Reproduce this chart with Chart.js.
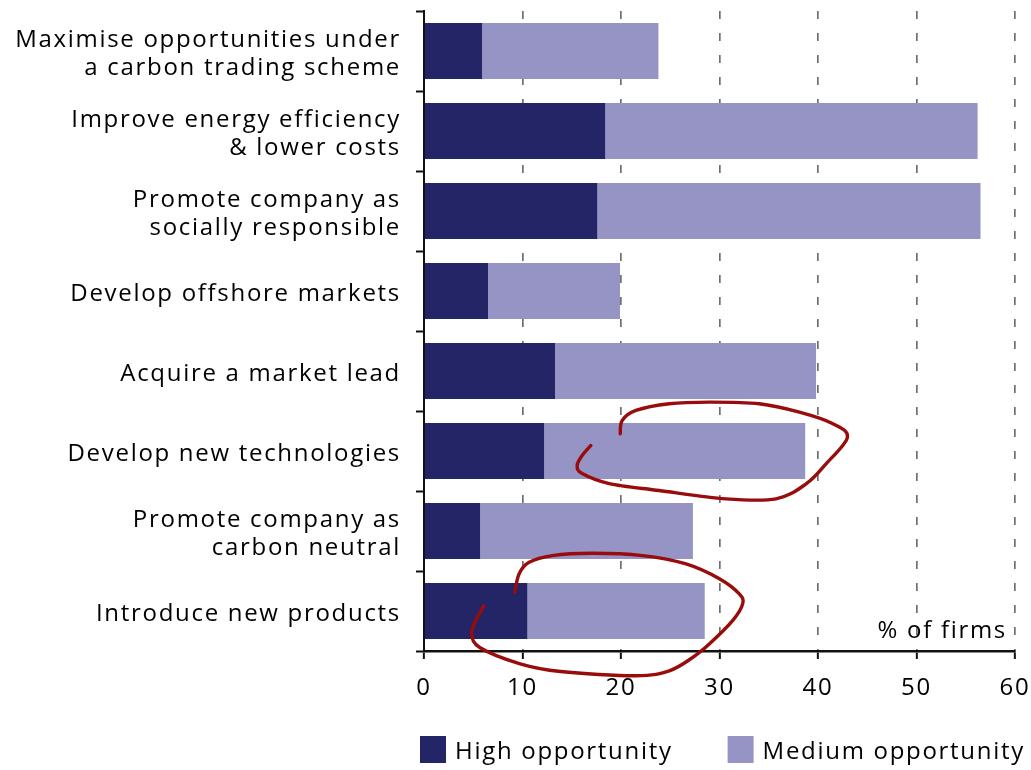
<!DOCTYPE html>
<html><head><meta charset="utf-8">
<script src="https://cdn.jsdelivr.net/npm/chart.js@4"></script>
<style>html,body{margin:0;padding:0;background:#fff;overflow:hidden}</style>
</head><body>
<canvas id="c" width="1031" height="770"></canvas>
<script>
const categories = [
  ['Maximise opportunities under', 'a carbon trading scheme'],
  ['Improve energy efficiency', '& lower costs'],
  ['Promote company as', 'socially responsible'],
  'Develop offshore markets',
  'Acquire a market lead',
  'Develop new technologies',
  ['Promote company as', 'carbon neutral'],
  'Introduce new products'
];
const highOpportunity   = [5.9, 18.4, 17.6, 6.5, 13.3, 12.2, 5.7, 10.5];
const mediumOpportunity = [17.9, 37.8, 38.9, 13.4, 26.5, 26.5, 21.6, 18.0];
const xTickValues = [0, 10, 20, 30, 40, 50, 60];
const seriesNames = ['High opportunity', 'Medium opportunity'];
const axisNote = '% of firms';
// hand-drawn annotation loops, in [x value, category index] units
const loopA = [[19.92,4.785],[20.12,4.618],[21.51,4.493],[24.90,4.409],[28.96,4.389],[34.04,4.409],[38.11,4.514],[41.46,4.656],[42.99,4.827],[40.82,5.160],[38.79,5.411],[35.74,5.598],[30.66,5.598],[23.88,5.494],[18.80,5.407],[16.06,5.282],[15.55,5.182],[16.06,5.056],[16.94,4.931]];
const loopB = [[9.22,6.767],[9.65,6.537],[10.67,6.392],[13.04,6.308],[17.10,6.279],[22.18,6.308],[26.60,6.412],[30.03,6.600],[32.01,6.787],[32.35,6.912],[31.33,7.121],[28.96,7.413],[27.27,7.581],[24.90,7.747],[21.51,7.810],[13.87,7.756],[9.76,7.660],[5.66,7.456],[4.85,7.284],[5.25,7.121],[6.08,6.934]];

const FONT = "'Open Sans', sans-serif";
const FSIZE = 24;
const SPACING = '1.7px';
const NAVY = '#232566';
const LAV = '#9694c4';
const INK = '#000';

function smoothPath(ctx, pts) {
  ctx.beginPath();
  ctx.moveTo(pts[0][0], pts[0][1]);
  for (let i = 0; i < pts.length - 1; i++) {
    const p0 = pts[Math.max(0, i - 1)], p1 = pts[i], p2 = pts[i + 1], p3 = pts[Math.min(pts.length - 1, i + 2)];
    const c1x = p1[0] + (p2[0] - p0[0]) / 6, c1y = p1[1] + (p2[1] - p0[1]) / 6;
    const c2x = p2[0] - (p3[0] - p1[0]) / 6, c2y = p2[1] - (p3[1] - p1[1]) / 6;
    ctx.bezierCurveTo(c1x, c1y, c2x, c2y, p2[0], p2[1]);
  }
  ctx.stroke();
}

const spacing = {
  id: 'spacing',
  beforeUpdate(chart) { chart.ctx.letterSpacing = SPACING; },
  beforeLayout(chart) { chart.ctx.letterSpacing = SPACING; },
  beforeDraw(chart) { chart.ctx.letterSpacing = SPACING; }
};

const extras = {
  id: 'extras',
  afterDraw(chart) {
    const ctx = chart.ctx, area = chart.chartArea;
    const xs = chart.scales.x, ys = chart.scales.y;
    ctx.save();
    ctx.letterSpacing = SPACING;
    // axis note
    ctx.font = FSIZE + 'px ' + FONT;
    ctx.fillStyle = INK;
    ctx.textAlign = 'right';
    ctx.textBaseline = 'middle';
    ctx.fillText(axisNote, area.right - 8, area.bottom - 20);
    // legend
    ctx.textAlign = 'left';
    let x = area.left - 4;
    const y = 736, box = 27;
    chart.data.datasets.forEach(ds => {
      ctx.fillStyle = ds.backgroundColor;
      ctx.fillRect(x, y, box - 1, box);
      ctx.fillStyle = INK;
      ctx.fillText(ds.label, x + box + 8, y + box / 2 + 3);
      x += box + 8 + ctx.measureText(ds.label).width + 55;
    });
    // annotation loops
    ctx.strokeStyle = '#980c0c';
    ctx.lineWidth = 3.4;
    ctx.lineCap = 'round';
    ctx.lineJoin = 'round';
    [loopA, loopB].forEach(loop => {
      smoothPath(ctx, loop.map(p => [xs.getPixelForValue(p[0]), ys.getPixelForValue(p[1])]));
    });
    ctx.restore();
  }
};

new Chart(document.getElementById('c'), {
  type: 'bar',
  data: {
    labels: categories,
    datasets: [
      { label: seriesNames[0], data: highOpportunity, backgroundColor: NAVY, borderWidth: 0, barPercentage: 0.7, categoryPercentage: 1 },
      { label: seriesNames[1], data: mediumOpportunity, backgroundColor: LAV, borderWidth: 0, barPercentage: 0.7, categoryPercentage: 1 }
    ]
  },
  options: {
    indexAxis: 'y',
    responsive: false,
    animation: false,
    layout: { padding: { top: 11, left: 0, right: 0, bottom: 0 } },
    plugins: { legend: { display: false }, tooltip: { enabled: false } },
    scales: {
      x: {
        stacked: true, min: 0, max: 60,
        afterBuildTicks: s => { s.ticks = xTickValues.map(v => ({ value: v })); },
        grid: { color: '#6f6f6f', lineWidth: 1.7, drawTicks: true, tickLength: 8, tickColor: '#111', tickWidth: 2, tickBorderDash: [] },
        border: { display: true, color: '#111', width: 2.5, dash: [8, 14] },
        ticks: { font: { family: FONT, size: FSIZE }, color: INK, padding: 15 },
        afterFit: s => { s.height = 119; s.paddingLeft = 0; s.paddingRight = 16; }
      },
      y: {
        stacked: true,
        z: 1,
        grid: { offset: true, drawOnChartArea: false, drawTicks: true, tickLength: 8, tickColor: '#111', tickWidth: 2 },
        border: { display: true, color: '#111', width: 2 },
        ticks: { font: { family: FONT, size: FSIZE, lineHeight: 1.17 }, color: INK, padding: 15, labelOffset: 3 },
        afterFit: s => { s.width = 424; s.paddingTop = 0; s.paddingBottom = 0; }
      }
    }
  },
  plugins: [spacing, extras]
});
</script>
</body></html>
